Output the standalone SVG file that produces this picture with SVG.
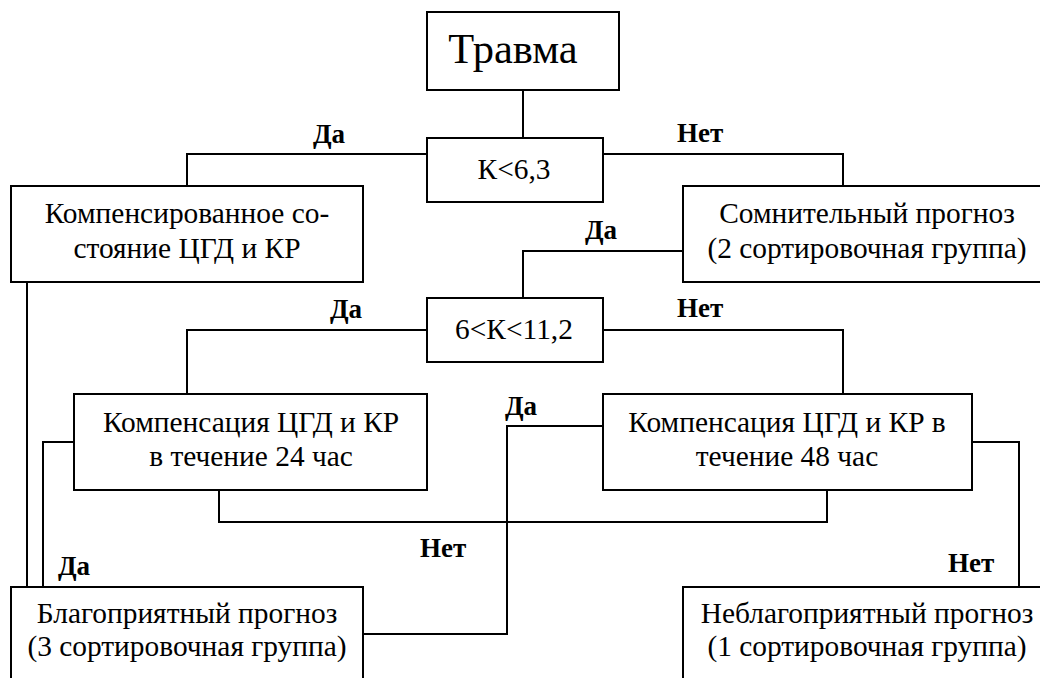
<svg xmlns="http://www.w3.org/2000/svg" width="1040" height="678" viewBox="0 0 1040 678">
<style>
.box{fill:#fff;stroke:#000;stroke-width:2}
.t{font-family:'Liberation Serif','Times New Roman',serif;font-size:29.4px;fill:#000;text-anchor:middle}
.big{font-size:42.5px}
.lbl{font-family:'Liberation Serif','Times New Roman',serif;font-size:27px;font-weight:bold;fill:#000}
.c{fill:none;stroke:#000;stroke-width:2}
</style>
<rect width="1040" height="678" fill="#fff"/>
<g id="connectors">
<path class="c" d="M523,90 V138"/>
<path class="c" d="M427,154 H187 V186"/>
<path class="c" d="M603,154 H843 V186"/>
<path class="c" d="M683,251 H523 V298"/>
<path class="c" d="M427,330 H187 V394"/>
<path class="c" d="M603,330 H843 V394"/>
<path class="c" d="M219,490 V522 H827 V490"/>
<path class="c" d="M603,426 H507 V634 H363"/>
<path class="c" d="M74,442 H43 V587"/>
<path class="c" d="M27,282 V587"/>
<path class="c" d="M972,442 H1019 V587"/>
<text class="lbl" x="313" y="143">Да</text>
<text class="lbl" x="677" y="142">Нет</text>
<text class="lbl" x="585" y="239">Да</text>
<text class="lbl" x="330" y="318">Да</text>
<text class="lbl" x="677" y="317">Нет</text>
<text class="lbl" x="505" y="415">Да</text>
<text class="lbl" x="420" y="557">Нет</text>
<text class="lbl" x="58" y="575">Да</text>
<text class="lbl" x="948" y="572">Нет</text>
</g>
<g id="trauma">
<rect class="box" x="427" y="12" width="192" height="78"/>
<text class="t big" x="513" y="63">Травма</text>
</g>
<g id="k63">
<rect class="box" x="427" y="138" width="176" height="64"/>
<text class="t" x="514" y="179">К&lt;6,3</text>
</g>
<g id="compensated">
<rect class="box" x="11" y="186" width="352" height="96"/>
<text class="t" x="187" y="223">Компенсированное со-</text>
<text class="t" x="187" y="258">стояние ЦГД и КР</text>
</g>
<g id="doubtful">
<rect class="box" x="683" y="186" width="370" height="96"/>
<text class="t" x="867" y="223">Сомнительный прогноз</text>
<text class="t" x="867" y="258">(2 сортировочная группа)</text>
</g>
<g id="k6_112">
<rect class="box" x="427" y="298" width="176" height="64"/>
<text class="t" x="514" y="339">6&lt;К&lt;11,2</text>
</g>
<g id="comp24">
<rect class="box" x="74" y="394" width="353" height="96"/>
<text class="t" x="251" y="432">Компенсация ЦГД и КР</text>
<text class="t" x="251" y="466">в течение 24 час</text>
</g>
<g id="comp48">
<rect class="box" x="603" y="394" width="369" height="96"/>
<text class="t" x="787" y="432">Компенсация ЦГД и КР в</text>
<text class="t" x="787" y="466">течение 48 час</text>
</g>
<g id="favorable">
<rect class="box" x="11" y="587" width="352" height="110"/>
<text class="t" x="187" y="623">Благоприятный прогноз</text>
<text class="t" x="187" y="656">(3 сортировочная группа)</text>
</g>
<g id="unfavorable">
<rect class="box" x="683" y="587" width="370" height="110"/>
<text class="t" x="867" y="623">Неблагоприятный прогноз</text>
<text class="t" x="867" y="656">(1 сортировочная группа)</text>
</g>
</svg>
